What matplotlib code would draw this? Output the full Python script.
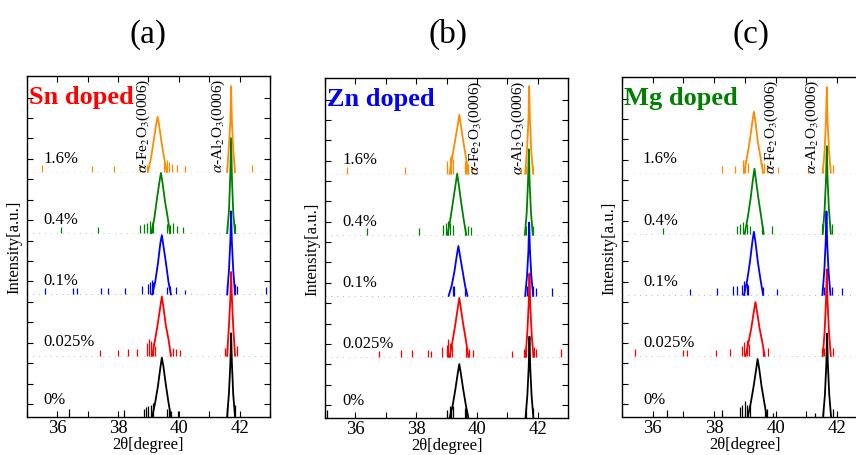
import matplotlib
matplotlib.use('Agg')
import matplotlib.pyplot as plt
from matplotlib.ticker import MultipleLocator, NullFormatter

plt.rcParams['font.family'] = ['Liberation Serif', 'DejaVu Serif']
plt.rcParams['mathtext.fontset'] = 'stix'

# curve labels and colours, bottom to top
conc = ['0%', '0.025%', '0.1%', '0.4%', '1.6%']
colors = ['black', 'red', 'blue', 'green', 'darkorange']
offsets = [0, 3, 6, 9, 12]   # stacking offset (decades on log scale)

# peak profile grids (deg from peak centre)
fe_dx = [-0.32, -0.22, -0.13, -0.05, 0.0, 0.05, 0.13, 0.22, 0.30]
al_dx = [-0.13, -0.07, -0.025, 0.0, 0.025, 0.07, 0.13]

# ---- (a) Sn doped ----
sn_fe_c = [39.44, 39.44, 39.44, 39.41, 39.30]
sn_fe_h = [[0, 0.7, 1.5, 2.4, 2.9, 2.5, 1.6, 0.7, 0],
           [0, 0.8, 1.6, 2.4, 2.9, 2.4, 1.5, 0.8, 0],
           [0, 0.6, 1.5, 2.5, 2.9, 2.4, 1.6, 0.6, 0],
           [0, 0.7, 1.7, 2.5, 2.95, 2.5, 1.6, 0.8, 0],
           [0, 0.65, 1.5, 2.3, 2.7, 2.3, 1.45, 0.65, 0]]
sn_al_c = [41.72, 41.72, 41.72, 41.72, 41.72]
sn_al_h = [[0, 1.2, 2.6, 4.1, 2.7, 1.1, 0],
           [0, 1.5, 2.8, 4.1, 2.9, 1.4, 0],
           [0, 1.2, 2.6, 4.07, 2.6, 1.2, 0],
           [0, 1.1, 2.9, 4.66, 2.8, 1.0, 0],
           [0, 1.3, 2.5, 4.2, 2.5, 1.1, 0]]
sn_spk_x = [[36.4, 38.2, 38.85, 38.92, 39.0, 39.08, 39.15, 39.62, 39.68, 39.75, 39.98, 41.6, 41.84],
            [37.4, 38.0, 38.33, 38.63, 38.96, 39.02, 39.08, 39.14, 39.2, 39.72, 39.8, 39.9, 40.05, 41.53, 41.6, 41.9],
            [35.6, 36.5, 36.66, 37.45, 37.67, 38.23, 38.78, 39.0, 39.06, 39.12, 39.16, 39.62, 39.7, 39.9, 40.2, 41.57, 41.85, 41.9, 42.86],
            [36.12, 37.35, 38.73, 38.85, 38.95, 39.05, 39.12, 39.16, 39.62, 39.7, 39.8, 39.95, 40.15, 41.58, 41.85, 43.0],
            [35.5, 37.15, 37.88, 38.73, 38.96, 39.5, 39.6, 39.68, 39.78, 39.95, 40.2, 41.6, 41.82, 42.42]]
sn_spk_h = [[0.4, 0.35, 0.4, 0.5, 0.55, 0.6, 0.7, 0.4, 0.35, 0.3, 0.3, 0.5, 0.6],
            [0.3, 0.3, 0.35, 0.35, 0.6, 0.8, 0.7, 0.6, 0.5, 0.35, 0.4, 0.35, 0.3, 0.4, 0.5, 0.5],
            [0.3, 0.3, 0.3, 0.3, 0.3, 0.3, 0.4, 0.5, 0.6, 0.7, 0.6, 0.35, 0.4, 0.35, 0.2, 0.5, 0.5, 0.4, 0.35],
            [0.3, 0.3, 0.4, 0.45, 0.5, 0.6, 0.5, 0.6, 0.45, 0.4, 0.5, 0.35, 0.3, 0.4, 0.45, 0.4],
            [0.35, 0.3, 0.3, 0.3, 0.35, 0.5, 0.6, 0.5, 0.4, 0.35, 0.3, 0.3, 0.4, 0.35]]

# ---- (b) Zn doped ----
zn_fe_c = [39.42, 39.42, 39.39, 39.35, 39.42]
zn_fe_h = [[0, 0.6, 1.4, 2.2, 2.65, 2.2, 1.4, 0.6, 0],
           [0, 0.8, 1.6, 2.4, 2.9, 2.4, 1.6, 0.8, 0],
           [0, 0.5, 1.2, 2.0, 2.45, 2.0, 1.3, 0.5, 0],
           [0, 0.8, 1.7, 2.5, 3.0, 2.5, 1.6, 0.7, 0],
           [0, 0.9, 1.7, 2.4, 2.9, 2.4, 1.6, 0.8, 0]]
zn_al_c = [41.73, 41.73, 41.72, 41.71, 41.72]
zn_al_h = [[0, 1.1, 2.5, 4.0, 2.5, 1.1, 0],
           [0, 1.2, 2.6, 4.1, 2.6, 1.2, 0],
           [0, 1.0, 2.2, 3.6, 2.3, 1.0, 0],
           [0, 1.1, 2.7, 4.2, 2.6, 1.1, 0],
           [0, 1.2, 2.6, 4.3, 2.7, 1.1, 0]]
zn_spk_x = [[35.07, 39.03, 39.1, 39.16, 39.2, 39.6, 39.65, 41.62, 41.84],
            [36.78, 37.51, 37.87, 38.4, 38.5, 38.86, 39.0, 39.06, 39.12, 39.18, 39.65, 39.75, 39.88, 41.14, 41.55, 41.62, 41.88, 41.93, 42.76],
            [39.2, 39.25, 39.6, 41.65, 41.85, 41.93, 42.46],
            [36.39, 38.1, 38.9, 38.98, 39.05, 39.12, 39.2, 39.6, 39.7, 39.79, 41.6, 41.86, 43.0],
            [35.73, 37.64, 39.03, 39.1, 39.16, 39.22, 39.6, 39.65, 39.7, 39.85, 41.44, 41.6, 41.86]]
zn_spk_h = [[0.4, 0.4, 0.6, 0.5, 0.6, 0.5, 0.4, 0.5, 0.5],
            [0.3, 0.35, 0.35, 0.35, 0.3, 0.5, 0.6, 0.9, 0.7, 0.6, 0.5, 0.4, 0.35, 0.3, 0.4, 0.5, 0.5, 0.4, 0.4],
            [0.5, 0.5, 0.4, 0.5, 0.5, 0.4, 0.4],
            [0.35, 0.35, 0.5, 0.6, 0.7, 0.6, 0.5, 0.4, 0.45, 0.4, 0.45, 0.45, 0.35],
            [0.35, 0.35, 0.6, 0.8, 0.9, 0.7, 0.6, 0.6, 0.5, 0.35, 0.3, 0.4, 0.4]]

# ---- (c) Mg doped ----
mg_fe_c = [39.41, 39.34, 39.29, 39.31, 39.29]
mg_fe_h = [[0, 0.7, 1.5, 2.3, 2.85, 2.4, 1.5, 0.7, 0],
           [0, 0.7, 1.4, 2.2, 2.65, 2.2, 1.4, 0.7, 0],
           [0, 0.7, 1.6, 2.6, 3.1, 2.6, 1.6, 0.7, 0],
           [0, 0.8, 1.7, 2.7, 3.2, 2.6, 1.7, 0.8, 0],
           [0, 0.8, 1.6, 2.5, 3.0, 2.5, 1.5, 0.7, 0]]
mg_al_c = [41.67, 41.66, 41.65, 41.66, 41.66]
mg_al_h = [[0, 1.1, 2.6, 4.1, 2.6, 1.1, 0],
           [0, 1.2, 2.7, 4.25, 2.7, 1.2, 0],
           [0, 1.2, 2.6, 4.1, 2.5, 1.1, 0],
           [0, 1.2, 2.7, 4.3, 2.7, 1.2, 0],
           [0, 1.1, 2.6, 4.2, 2.6, 1.1, 0]]
mg_spk_x = [[36.46, 38.25, 38.83, 38.9, 39.0, 39.08, 39.15, 39.64, 39.7, 39.9, 41.27, 41.55, 41.85],
            [35.42, 36.98, 37.11, 38.05, 38.5, 38.9, 38.98, 39.05, 39.12, 39.6, 39.74, 41.5, 41.58, 41.85],
            [37.2, 38.08, 38.6, 38.73, 38.9, 38.98, 39.05, 39.1, 39.6, 40.03, 41.5, 41.58, 41.82, 42.14],
            [36.33, 38.73, 38.85, 38.95, 39.05, 39.15, 39.55, 39.87, 41.5, 41.82],
            [38.25, 38.67, 38.93, 39.0, 39.1, 39.55, 39.62, 39.7, 40.06, 41.04, 41.53, 41.85]]
mg_spk_h = [[0.35, 0.35, 0.5, 0.6, 0.8, 0.6, 0.6, 0.4, 0.4, 0.2, 0.2, 0.4, 0.4],
            [0.35, 0.3, 0.3, 0.3, 0.35, 0.5, 0.7, 0.8, 0.6, 0.4, 0.4, 0.4, 0.4, 0.4],
            [0.3, 0.35, 0.45, 0.45, 0.5, 0.7, 0.6, 0.5, 0.4, 0.3, 0.4, 0.4, 0.4, 0.35],
            [0.3, 0.4, 0.5, 0.6, 0.5, 0.4, 0.5, 0.4, 0.5, 0.5],
            [0.35, 0.35, 0.6, 0.6, 0.5, 0.5, 0.5, 0.4, 0.3, 0.25, 0.4, 0.4]]

panels = [
    ('(a)', 'Sn doped', 'red', sn_fe_c, sn_fe_h, sn_al_c, sn_al_h, sn_spk_x, sn_spk_h),
    ('(b)', 'Zn doped', 'blue', zn_fe_c, zn_fe_h, zn_al_c, zn_al_h, zn_spk_x, zn_spk_h),
    ('(c)', 'Mg doped', 'green', mg_fe_c, mg_fe_h, mg_al_c, mg_al_h, mg_spk_x, mg_spk_h),
]

# axes rectangles [left, bottom, width, height] in figure fraction
rects = [[0.0315, 0.0833, 0.2839, 0.748],
         [0.3797, 0.0811, 0.2839, 0.7456],
         [0.7266, 0.0833, 0.2874, 0.7456]]
# label x positions (data) for the rotated peak names
fe_lab_x = [38.83, 39.95, 39.87]
al_lab_x = [41.30, 41.37, 41.20]
pct_x = [35.53, 35.56, 35.68]

fig = plt.figure(figsize=(8.56, 4.56), dpi=100)

for i, (tag, dop, dcol, fe_c, fe_h, al_c, al_h, spk_x, spk_h) in enumerate(panels):
    ax = fig.add_axes(rects[i])
    for k in range(5):
        b = offsets[k]
        c = colors[k]
        # faint baseline dots
        ax.plot([35, 43], [b, b], color=c, lw=0.7, ls=(0, (1, 5)), alpha=0.35)
        # noise spikes
        ax.vlines(spk_x[k], b, [b + h for h in spk_h[k]], color=c, lw=0.9)
        # Fe2O3 peak
        ax.plot([fe_c[k] + d for d in fe_dx], [b + h for h in fe_h[k]], color=c, lw=1.3)
        # Al2O3 peak
        ax.plot([al_c[k] + d for d in al_dx], [b + h for h in al_h[k]], color=c, lw=1.3)
        # concentration label
        ax.text(pct_x[i], b + (0.9 if k == 0 else 0.7), conc[k], fontsize=12,
                va='center', ha='left')

    ax.set_xlim(35, 43)
    ax.set_ylim(0, 16.7)
    ax.xaxis.set_major_locator(MultipleLocator(2))
    ax.xaxis.set_minor_locator(MultipleLocator(1))
    ax.set_yticks([0.64 + j for j in range(16)])
    ax.yaxis.set_major_formatter(NullFormatter())
    ax.tick_params(which='both', direction='in', top=True, right=True, length=4, width=0.8,
                   labelsize=13.5, pad=1.5)
    for s in ax.spines.values():
        s.set_linewidth(1.0)

    ax.set_xlabel('2θ[degree]', fontsize=12, labelpad=0)
    ax.set_ylabel('Intensity[a.u.]', fontsize=12, labelpad=2)

    ax.text(0.008, 0.94, dop, transform=ax.transAxes, color=dcol, fontsize=19,
            fontweight='bold', va='center', ha='left')
    ax.text(fe_lab_x[i], 16.6, r'$\alpha$-Fe$_2$O$_3$(0006)', rotation=90,
            fontsize=11, va='top', ha='center')
    ax.text(al_lab_x[i], 16.6, r'$\alpha$-Al$_2$O$_3$(0006)', rotation=90,
            fontsize=11, va='top', ha='center')

    fig.text([0.173, 0.523, 0.877][i], 0.925, tag, fontsize=24, ha='center', va='center')

plt.savefig('out.png', dpi=100)
